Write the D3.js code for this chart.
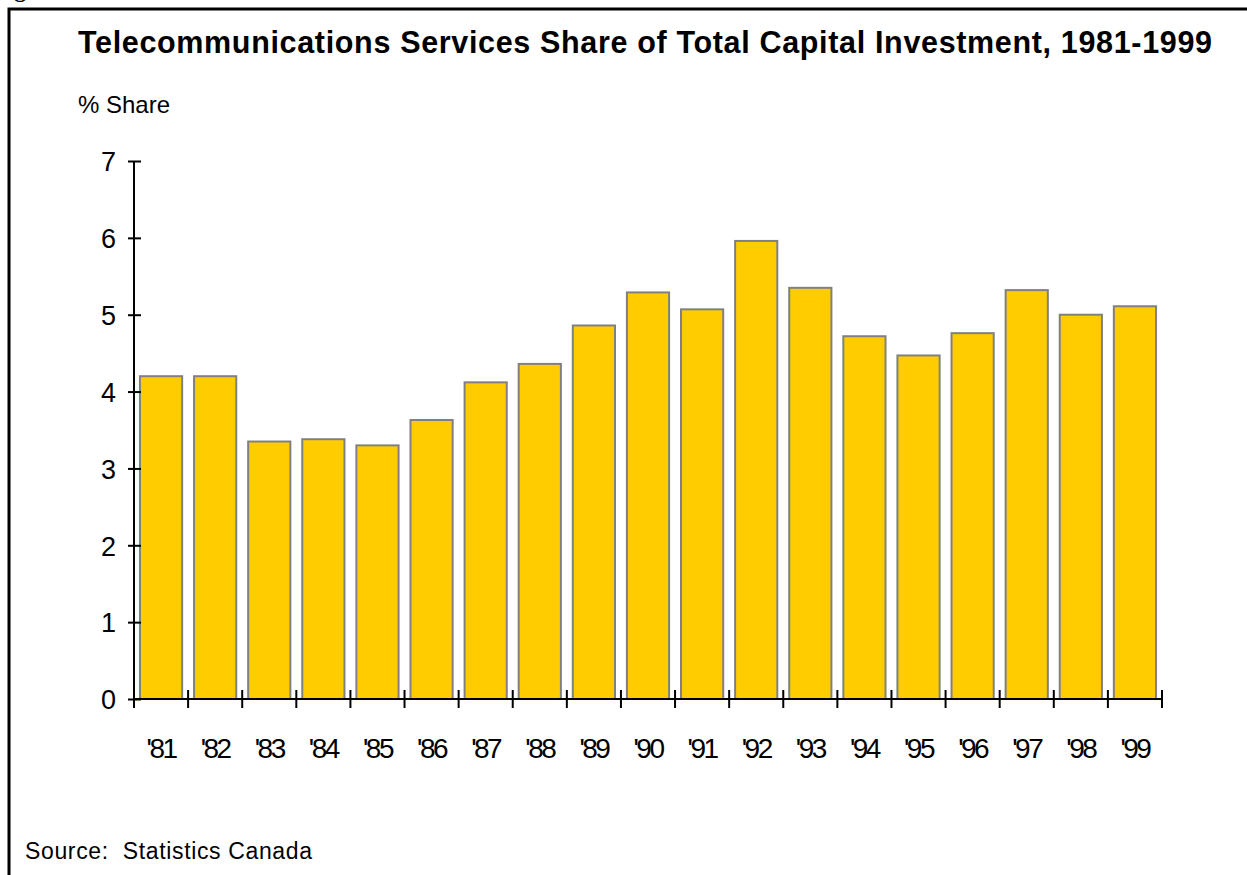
<!DOCTYPE html>
<html>
<head>
<meta charset="utf-8">
<script src="https://cdn.jsdelivr.net/npm/d3@7"></script>
<style>
  html, body { margin: 0; padding: 0; background: #fff; }
  svg { display: block; }
  text { font-family: "Liberation Sans", Arial, sans-serif; fill: #000; }
</style>
</head>
<body>
<svg id="chart" width="1247" height="875"></svg>
<script>
// Telecommunications services share of total capital investment (%)
const years = ["'81","'82","'83","'84","'85","'86","'87","'88","'89","'90",
               "'91","'92","'93","'94","'95","'96","'97","'98","'99"];
const shares = [4.20, 4.20, 3.35, 3.38, 3.30, 3.63, 4.12, 4.36, 4.86, 5.29,
                5.07, 5.96, 5.35, 4.72, 4.47, 4.76, 5.32, 5.00, 5.11];
const yTicks = [0, 1, 2, 3, 4, 5, 6, 7];

const svg = d3.select("#chart");

// Page frame (extends past the right and bottom edges)
svg.append("path")
  .attr("d", "M9,880 L9,9 L1252,9")
  .attr("fill", "none")
  .attr("stroke", "#000")
  .attr("stroke-width", 3);

// Figure caption, mostly above the visible area
svg.append("text")
  .attr("x", -7).attr("y", -3)
  .style("font-family", "'Liberation Serif', 'Times New Roman', serif")
  .style("font-weight", "bold")
  .style("font-size", "24px")
  .text("Figure");

// Title
svg.append("text")
  .attr("x", 78).attr("y", 53)
  .attr("textLength", 1134)
  .attr("lengthAdjust", "spacing")
  .style("font-weight", "bold")
  .style("font-size", "30.5px")
  .text("Telecommunications Services Share of Total Capital Investment, 1981-1999");

// Unit label
svg.append("text")
  .attr("x", 78).attr("y", 113)
  .style("font-size", "24px")
  .text("% Share");

// Source
svg.append("text")
  .attr("x", 25).attr("y", 859)
  .attr("textLength", 287)
  .attr("lengthAdjust", "spacing")
  .style("font-size", "23px")
  .text("Source:\u00A0\u00A0Statistics Canada");

const x0 = 134, x1 = 1162, yBottom = 699, yTop = 161;
const padOuter = 0.11;

const x = d3.scaleBand()
  .domain(years)
  .range([x0, x1])
  .paddingInner(0.22)
  .paddingOuter(padOuter);

const y = d3.scaleLinear()
  .domain([0, 7])
  .range([yBottom, yTop]);

// Bars
svg.append("g")
  .selectAll("rect")
  .data(years)
  .join("rect")
  .attr("x", d => x(d))
  .attr("width", x.bandwidth())
  .attr("y", (d, i) => y(shares[i]))
  .attr("height", (d, i) => y(0) - y(shares[i]))
  .attr("fill", "#FFCC00")
  .attr("stroke", "#808080")
  .attr("stroke-width", 2);

// Y axis
const yAxis = svg.append("g")
  .attr("transform", `translate(${x0},0)`)
  .call(d3.axisLeft(y).tickValues(yTicks).tickFormat(d3.format("d")).tickSize(6).tickPadding(12));
yAxis.select(".domain").remove();
yAxis.selectAll(".tick line")
  .attr("x1", -6).attr("x2", 7)
  .attr("stroke", "#000").attr("stroke-width", 2);
yAxis.selectAll(".tick text")
  .style("font-family", "'Liberation Sans', Arial, sans-serif")
  .style("font-size", "27px")
  .attr("dy", "0.36em");
svg.append("line")
  .attr("x1", x0).attr("x2", x0)
  .attr("y1", y(7)).attr("y2", y(0))
  .attr("stroke", "#000").attr("stroke-width", 2);

// X axis: labels centred in each band, ticks at band boundaries
const xAxis = svg.append("g")
  .attr("transform", `translate(0,${yBottom})`)
  .call(d3.axisBottom(x).tickSize(0).tickPadding(39));
xAxis.select(".domain").remove();
xAxis.selectAll(".tick text")
  .style("font-family", "'Liberation Sans', Arial, sans-serif")
  .style("font-size", "28px")
  .style("letter-spacing", "-2.5px");

svg.append("line")
  .attr("x1", x0).attr("x2", x1)
  .attr("y1", yBottom).attr("y2", yBottom)
  .attr("stroke", "#000").attr("stroke-width", 2);

const step = x.step();
const bounds = years.map(d => x(d) - step * padOuter).concat([x(years[years.length - 1]) + x.bandwidth() + step * padOuter]);
svg.append("g")
  .selectAll("line")
  .data(bounds)
  .join("line")
  .attr("x1", d => d).attr("x2", d => d)
  .attr("y1", yBottom - 9).attr("y2", yBottom + 9)
  .attr("stroke", "#000").attr("stroke-width", 2);
</script>
</body>
</html>
